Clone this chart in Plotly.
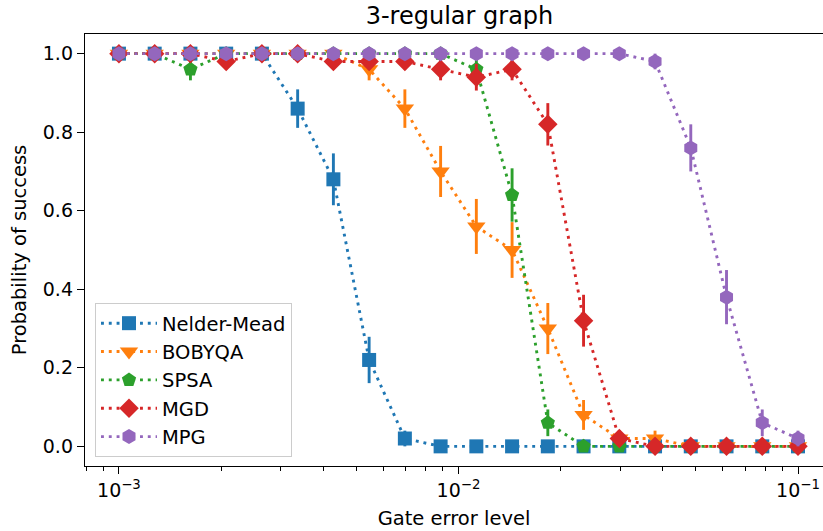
import plotly.graph_objects as go

# ---- data ----
gate_error = [0.001, 0.0012743, 0.0016238, 0.0020691, 0.0026367, 0.0033598,
              0.0042813, 0.0054556, 0.0069519, 0.0088587, 0.011288, 0.014384,
              0.018330, 0.023357, 0.029764, 0.037927, 0.048329, 0.061585,
              0.078476, 0.1]

nelder_mead = [1.0, 1.0, 1.0, 1.0, 1.0, 0.86, 0.68, 0.22, 0.02, 0.0,
               0.0, 0.0, 0.0, 0.0, 0.0, 0.0, 0.0, 0.0, 0.0, 0.0]
nelder_mead_err = [0.0, 0.0, 0.0, 0.0, 0.0, 0.049, 0.066, 0.059, 0.020, 0.0,
                   0.0, 0.0, 0.0, 0.0, 0.0, 0.0, 0.0, 0.0, 0.0, 0.0]

bobyqa = [1.0, 1.0, 1.0, 1.0, 1.0, 1.0, 1.0, 0.96, 0.86, 0.70,
          0.56, 0.50, 0.30, 0.08, 0.02, 0.02, 0.0, 0.0, 0.0, 0.0]
bobyqa_err = [0.0, 0.0, 0.0, 0.0, 0.0, 0.0, 0.0, 0.028, 0.049, 0.065,
              0.070, 0.071, 0.065, 0.038, 0.020, 0.020, 0.0, 0.0, 0.0, 0.0]

spsa = [1.0, 1.0, 0.96, 1.0, 1.0, 1.0, 1.0, 1.0, 1.0, 1.0,
        0.96, 0.64, 0.06, 0.0, 0.0, 0.0, 0.0, 0.0, 0.0, 0.0]
spsa_err = [0.0, 0.0, 0.028, 0.0, 0.0, 0.0, 0.0, 0.0, 0.0, 0.0,
            0.028, 0.068, 0.034, 0.0, 0.0, 0.0, 0.0, 0.0, 0.0, 0.0]

mgd = [1.0, 1.0, 1.0, 0.98, 1.0, 1.0, 0.98, 0.98, 0.98, 0.96,
       0.94, 0.96, 0.82, 0.32, 0.02, 0.0, 0.0, 0.0, 0.0, 0.0]
mgd_err = [0.0, 0.0, 0.0, 0.020, 0.0, 0.0, 0.020, 0.020, 0.020, 0.028,
           0.034, 0.028, 0.054, 0.066, 0.020, 0.0, 0.0, 0.0, 0.0, 0.0]

mpg = [1.0, 1.0, 1.0, 1.0, 1.0, 1.0, 1.0, 1.0, 1.0, 1.0,
       1.0, 1.0, 1.0, 1.0, 1.0, 0.98, 0.76, 0.38, 0.06, 0.02]
mpg_err = [0.0, 0.0, 0.0, 0.0, 0.0, 0.0, 0.0, 0.0, 0.0, 0.0,
           0.0, 0.0, 0.0, 0.0, 0.0, 0.020, 0.060, 0.069, 0.034, 0.020]

series_names = ["Nelder-Mead", "BOBYQA", "SPSA", "MGD", "MPG"]
series_values = [nelder_mead, bobyqa, spsa, mgd, mpg]
series_errors = [nelder_mead_err, bobyqa_err, spsa_err, mgd_err, mpg_err]
colors = ["#1f77b4", "#ff7f0e", "#2ca02c", "#d62728", "#9467bd"]
symbols = ["square", "triangle-down", "pentagon", "diamond", "hexagon"]
sizes = [14, 16, 15, 15, 15]

x_tickvals = [0.001, 0.01, 0.1]
x_ticktext = ["10<sup>−3</sup>", "10<sup>−2</sup>", "10<sup>−1</sup>"]
x_minor = [0.0008, 0.0009, 0.002, 0.003, 0.004, 0.005, 0.006, 0.007, 0.008, 0.009,
           0.02, 0.03, 0.04, 0.05, 0.06, 0.07, 0.08, 0.09]
y_tickvals = [0.0, 0.2, 0.4, 0.6, 0.8, 1.0]

# ---- figure ----
fig = go.Figure()
for name, vals, errs, c, s, sz in zip(series_names, series_values, series_errors,
                                      colors, symbols, sizes):
    fig.add_trace(go.Scatter(
        x=gate_error, y=vals, name=name, mode="lines+markers",
        line=dict(color=c, width=2.9, dash="2.9px,4.9px"),
        marker=dict(symbol=s, size=sz, color=c, line=dict(width=0)),
        error_y=dict(type="data", array=errs, visible=True, color=c,
                     thickness=2.9, width=0),
    ))

W, H = 823, 531
L, R, T, B = 85, 0, 34, 65
fig.update_layout(
    width=W, height=H,
    margin=dict(l=L, r=R, t=T, b=B),
    paper_bgcolor="white", plot_bgcolor="white",
    font=dict(family="DejaVu Sans", size=19, color="black"),
    title=dict(text="3-regular graph", x=(459.5 - L) / (W - L - R), xref="paper",
               xanchor="center", y=1 - 16 / H, yanchor="middle",
               font=dict(size=24)),
    showlegend=True,
    legend=dict(x=(95 - L) / (W - L - R), y=(466 - 457) / (H - T - B),
                xanchor="left", yanchor="bottom",
                bgcolor="rgba(255,255,255,0.8)", bordercolor="#cccccc",
                borderwidth=1, font=dict(size=19.5), itemwidth=56,
                tracegroupgap=0),
)
fig.update_xaxes(
    type="log", range=[-3.1, -3 + (W - 119) / 339.5], automargin=False,
    tickmode="array", tickvals=x_tickvals, ticktext=x_ticktext,
    ticks="outside", ticklen=7, tickwidth=1.2, tickcolor="black",
    tickfont=dict(size=19),
    minor=dict(tickmode="array", tickvals=x_minor, ticks="outside",
               ticklen=4, tickwidth=1, tickcolor="black", showgrid=False),
    showline=True, linecolor="black", linewidth=1.4, mirror=True,
    showgrid=False, zeroline=False,
    title=dict(text="Gate error level", font=dict(size=19.5), standoff=11),
)
fig.update_yaxes(
    range=[-0.05, 1.05], automargin=False,
    tickmode="array", tickvals=y_tickvals,
    tickformat=".1f", ticks="outside", ticklen=7, tickwidth=1.2, tickcolor="black",
    tickfont=dict(size=19),
    showline=True, linecolor="black", linewidth=1.4, mirror=False,
    showgrid=False, zeroline=False,
    title=dict(text="Probability of success", font=dict(size=19.5), standoff=10),
)

fig.write_html(
    "out.html",
    config={"displayModeBar": False},
    post_script="document.body.style.margin='0';document.body.style.overflow='hidden';",
)
